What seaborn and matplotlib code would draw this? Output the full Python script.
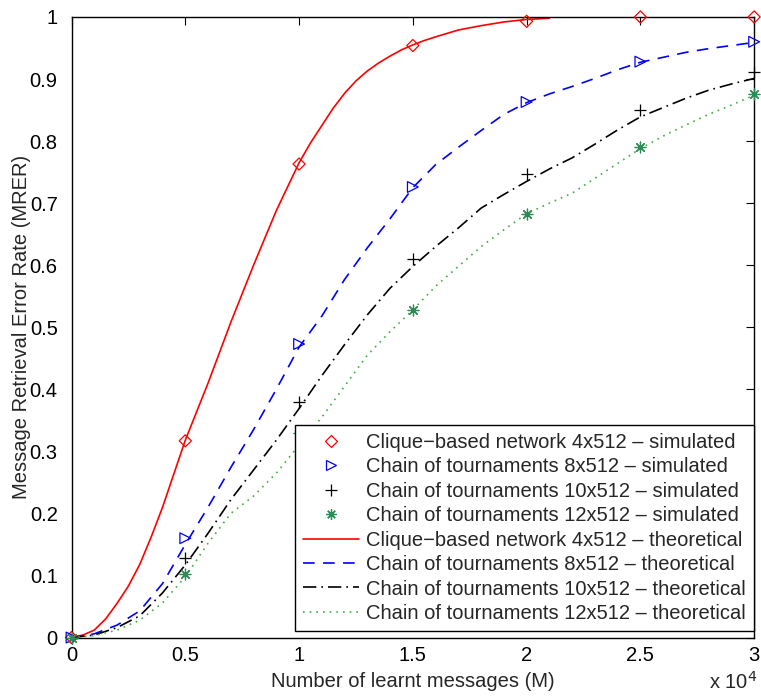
import numpy as np
import pandas as pd
import matplotlib
matplotlib.use("Agg")
import matplotlib.pyplot as plt
from matplotlib.lines import Line2D
import seaborn as sns

# ---------------- data ----------------
labels_sim = [
    "Clique\u2212based network 4x512 \u2013 simulated",
    "Chain of tournaments 8x512 \u2013 simulated",
    "Chain of tournaments 10x512 \u2013 simulated",
    "Chain of tournaments 12x512 \u2013 simulated",
]
labels_theo = [
    "Clique\u2212based network 4x512 \u2013 theoretical",
    "Chain of tournaments 8x512 \u2013 theoretical",
    "Chain of tournaments 10x512 \u2013 theoretical",
    "Chain of tournaments 12x512 \u2013 theoretical",
]

x_sim = [0, 5000, 10000, 15000, 20000, 25000, 30000]
sim_clique4 = [0.0, 0.317, 0.763, 0.954, 0.993, 1.0, 1.0]
sim_chain8 = [0.0, 0.160, 0.473, 0.726, 0.863, 0.928, 0.960]
sim_chain10 = [0.0, 0.128, 0.380, 0.610, 0.747, 0.850, 0.912]
sim_chain12 = [0.0, 0.102, 0.330, 0.528, 0.682, 0.791, 0.876]

x_theo_clique = [0, 500, 1000, 1500, 2000, 2500, 3000, 3500, 4000, 5000, 6000,
                 7000, 8000, 9000, 10000, 10500, 11000, 11500, 12000, 12500,
                 13000, 13500, 14000, 14500, 15000, 15500, 16000, 17000, 18000,
                 19000, 20000, 21000]
theo_clique4 = [0.0, 0.004, 0.012, 0.03, 0.055, 0.083, 0.118, 0.162, 0.21,
                0.318, 0.41, 0.508, 0.60, 0.688, 0.765, 0.797, 0.825, 0.853,
                0.877, 0.897, 0.913, 0.926, 0.937, 0.947, 0.955, 0.962, 0.968,
                0.979, 0.986, 0.992, 0.996, 0.998]

x_theo = [0, 1000, 2000, 3000, 4000, 5000, 6000, 7000, 8000, 9000, 10000,
          11000, 12000, 13000, 14000, 15000, 16000, 17000, 18000, 19000, 20000,
          21000, 22000, 23000, 24000, 25000, 26000, 27000, 28000, 29000, 30000]
theo_chain8 = [0.0, 0.006, 0.02, 0.043, 0.087, 0.15, 0.21, 0.274, 0.335, 0.40,
               0.468, 0.518, 0.577, 0.628, 0.675, 0.725, 0.762, 0.79, 0.817,
               0.843, 0.862, 0.876, 0.888, 0.901, 0.915, 0.927, 0.935, 0.943,
               0.949, 0.954, 0.959]
theo_chain10 = [0.0, 0.004, 0.016, 0.035, 0.072, 0.117, 0.168, 0.222, 0.27,
                0.318, 0.369, 0.422, 0.472, 0.52, 0.563, 0.598, 0.63, 0.66,
                0.692, 0.714, 0.735, 0.755, 0.773, 0.795, 0.818, 0.839, 0.854,
                0.869, 0.882, 0.892, 0.901]
theo_chain12 = [0.0, 0.003, 0.012, 0.028, 0.056, 0.098, 0.152, 0.20, 0.228,
                0.265, 0.31, 0.355, 0.405, 0.455, 0.493, 0.528, 0.566, 0.598,
                0.63, 0.657, 0.683, 0.70, 0.716, 0.74, 0.764, 0.788, 0.808,
                0.826, 0.843, 0.858, 0.874]

x_ticks = [0, 5000, 10000, 15000, 20000, 25000, 30000]
x_ticklabels = ["0", "0.5", "1", "1.5", "2", "2.5", "3"]
y_ticks = [0, 0.1, 0.2, 0.3, 0.4, 0.5, 0.6, 0.7, 0.8, 0.9, 1.0]
y_ticklabels = ["0", "0.1", "0.2", "0.3", "0.4", "0.5", "0.6", "0.7", "0.8", "0.9", "1"]

# ---------------- style ----------------
sns.set_style("white")
plt.rcParams["font.family"] = ["Liberation Sans", "DejaVu Sans"]
FS = 14.5
plt.rcParams["font.size"] = FS

c_red = "#ff0000"
c_blue = "#0000ff"
c_black = "#000000"
c_green_line = "#3cb043"
c_green_mark = "#2e8b57"

fig = plt.figure(figsize=(7.61, 6.96), dpi=100)
ax = fig.add_axes([0.094, 0.084, 0.897, 0.8916])

lw = 1.2
theo_specs = [
    (x_theo_clique, theo_clique4, c_red, "-"),
    (x_theo, theo_chain8, c_blue, (0, (7, 5))),
    (x_theo, theo_chain10, c_black, (0, (8, 3, 1, 3))),
    (x_theo, theo_chain12, c_green_line, (0, (1, 3))),
]
for xs, ys, col, ls in theo_specs:
    df = pd.DataFrame({"x": xs, "y": ys})
    sns.lineplot(data=df, x="x", y="y", ax=ax, color=col, linewidth=lw,
                 linestyle=ls, estimator=None, sort=False)

star = (8, 2, 0)
sim_specs = [
    (sim_clique4, "D", dict(facecolors="none", edgecolors=c_red, s=38, linewidths=0.9)),
    (sim_chain8, ">", dict(facecolors="none", edgecolors=c_blue, s=60, linewidths=0.9)),
    (sim_chain10, "+", dict(color=c_black, s=80, linewidths=0.9)),
    (sim_chain12, star, dict(color=c_green_mark, s=60, linewidths=0.9)),
]
for ys, mk, kw in sim_specs:
    df = pd.DataFrame({"x": x_sim, "y": ys})
    sns.scatterplot(data=df, x="x", y="y", ax=ax, marker=mk, zorder=3,
                    clip_on=False, **kw)

ax.set_xlim(0, 30000)
ax.set_ylim(0, 1)
ax.set_xticks(x_ticks)
ax.set_xticklabels(x_ticklabels)
ax.set_yticks(y_ticks)
ax.set_yticklabels(y_ticklabels)
ax.tick_params(direction="in", length=6, width=0.8, top=True, right=True,
               labelsize=FS, colors="black")
ax.tick_params(axis="x", pad=6)
ax.tick_params(axis="y", pad=10)
for sp in ax.spines.values():
    sp.set_visible(True)
    sp.set_color("black")
    sp.set_linewidth(1.0)

ax.set_xlabel("Number of learnt messages (M)", fontsize=FS, labelpad=5)
ax.set_ylabel("Message Retrieval Error Rate (MRER)", fontsize=FS, labelpad=-1)
fig.text(0.995, 0.004, r"x 10$^{4}$", ha="right", va="bottom", fontsize=FS)

handles = [
    Line2D([], [], linestyle="none", marker="D", markersize=6, markerfacecolor="none",
           markeredgecolor=c_red, markeredgewidth=0.9),
    Line2D([], [], linestyle="none", marker=">", markersize=7.5, markerfacecolor="none",
           markeredgecolor=c_blue, markeredgewidth=0.9),
    Line2D([], [], linestyle="none", marker="+", markersize=9, color=c_black,
           markeredgewidth=0.9),
    Line2D([], [], linestyle="none", marker=star, markersize=7.5, color=c_green_mark,
           markeredgewidth=0.9),
]
for xs, ys, col, ls in theo_specs:
    handles.append(Line2D([], [], color=col, linewidth=lw, linestyle=ls))

leg = ax.legend(handles, labels_sim + labels_theo, loc="lower right",
                bbox_to_anchor=(1.0, 0.0105), frameon=True, fancybox=False,
                framealpha=1, edgecolor="black", fontsize=FS, handlelength=2.8,
                handletextpad=0.35, borderpad=0.4, labelspacing=0.27,
                borderaxespad=0.0)
leg.get_frame().set_linewidth(1.0)
leg.set_zorder(5)

fig.savefig("out.png", dpi=100, facecolor="white")
